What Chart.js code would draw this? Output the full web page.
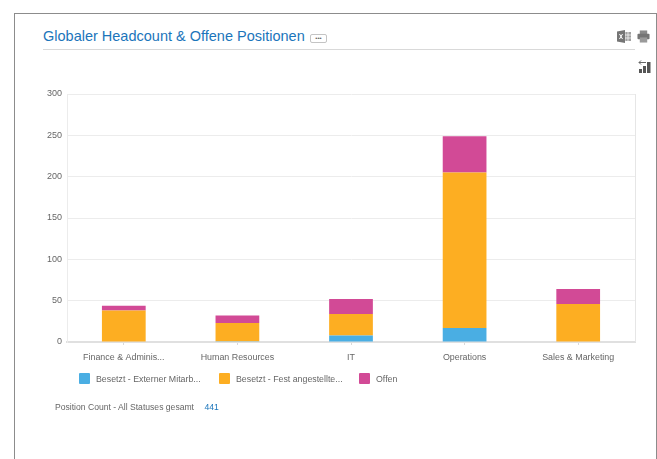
<!DOCTYPE html>
<html>
<head>
<meta charset="utf-8">
<script src="https://cdn.jsdelivr.net/npm/chart.js@4"></script>
<style>
html, body { margin: 0; padding: 0; background: #fff; overflow: hidden; }
body { width: 657px; height: 459px; position: relative; font-family: "Liberation Sans", Arial, sans-serif; color: #666; }
#rahmen { position: absolute; left: 14px; top: 13px; width: 643px; height: 446px; border: 1px solid #8c8c8c; border-bottom: none; box-sizing: border-box; }
#titel { position: absolute; left: 43px; top: 27px; font-size: 14.5px; line-height: 18px; color: #1b75bb; white-space: nowrap; }
#mehr { position: absolute; left: 310px; top: 34px; width: 17px; height: 9px; border: 1px solid #c4c4c4; border-radius: 2px; box-sizing: border-box; font-size: 6px; line-height: 7px; text-align: center; color: #666; letter-spacing: 0; }
#linie { position: absolute; left: 43px; top: 49px; width: 592px; height: 1px; background: #d9d9d9; }
canvas { position: absolute; left: 0; top: 0; }
.icon { position: absolute; }
#legende { position: absolute; left: 79px; top: 373px; height: 12px; font-size: 8.8px; line-height: 12px; white-space: nowrap; }
.eintrag { position: absolute; top: 0; }
.eintrag i { position: absolute; left: 0; top: 0; width: 11px; height: 11px; border-radius: 1px; }
.eintrag span { position: absolute; left: 17px; top: 0; }
#summe { position: absolute; left: 55px; top: 401px; font-size: 8.6px; line-height: 12px; white-space: nowrap; }
#summe b { font-weight: normal; color: #1b75bb; margin-left: 8px; }
</style>
</head>
<body>
<div id="rahmen"></div>
<div id="titel">Globaler Headcount &amp; Offene Positionen</div>
<div id="mehr">•••</div>
<div id="linie"></div>

<svg class="icon" style="left:617px;top:30px" width="14" height="13" viewBox="0 0 14 13">
  <rect x="6" y="2" width="8" height="9" fill="#a0a0a0"/>
  <path d="M8 2v9M11 2v9M6 5h8M6 8h8" stroke="#fff" stroke-width="0.7"/>
  <path d="M0 1.5 8 0v13L0 11.5z" fill="#757575"/>
  <path d="M2.5 4 5.5 9M5.5 4 2.5 9" stroke="#fff" stroke-width="1"/>
</svg>
<svg class="icon" style="left:637px;top:30px" width="13" height="13" viewBox="0 0 14 14">
  <rect x="3" y="0.5" width="8" height="4" fill="#8a8a8a"/>
  <rect x="0.5" y="4" width="13" height="6" rx="1" fill="#757575"/>
  <rect x="3" y="8" width="8" height="5.5" fill="#9a9a9a"/>
</svg>
<svg class="icon" style="left:638px;top:60px" width="13" height="13" viewBox="0 0 13 13">
  <path d="M1 2.5h7M3 0.5 1 2.5 3 4.5" fill="none" stroke="#666" stroke-width="1"/>
  <rect x="1" y="9" width="3" height="4" fill="#555"/>
  <rect x="5" y="6" width="3" height="7" fill="#555"/>
  <rect x="9" y="2" width="3.5" height="11" fill="#555"/>
</svg>

<canvas id="chartHeadcount" width="657" height="459"></canvas>

<div id="legende"></div>
<div id="summe">Position Count - All Statuses gesamt <b id="gesamt"></b></div>

<script>
const bereiche = ['Finance & Adminis...', 'Human Resources', 'IT', 'Operations', 'Sales & Marketing'];
const extern = [0, 1, 8, 17, 0];
const festAngestellt = [38, 22, 26, 188, 46];
const offen = [6, 9, 18, 44, 18];
const achsenTicks = [0, 50, 100, 150, 200, 250, 300];
const serienNamen = ['Besetzt - Externer Mitarb...', 'Besetzt - Fest angestellte...', 'Offen'];
const serienFarben = ['#4aaee3', '#fdae22', '#d24a96'];
const legendePosition = [0, 140, 280];
const gesamtWert = 441;

document.getElementById('gesamt').textContent = gesamtWert;

// Legende als HTML, damit sie frei unter dem Diagramm sitzt
const legende = document.getElementById('legende');
serienNamen.forEach((name, i) => {
    const el = document.createElement('div');
    el.className = 'eintrag';
    el.style.left = legendePosition[i] + 'px';
    el.innerHTML = `<i style="background:${serienFarben[i]}"></i><span>${name}</span>`;
    legende.appendChild(el);
});

function serie(i, werte) {
    return {
        label: serienNamen[i],
        data: werte,
        backgroundColor: serienFarben[i],
        borderWidth: 0,
        barPercentage: 0.385,
        categoryPercentage: 1
    };
}

new Chart(document.getElementById('chartHeadcount').getContext('2d'), {
    type: 'bar',
    data: {
        labels: bereiche,
        datasets: [serie(0, extern), serie(1, festAngestellt), serie(2, offen)]
    },
    options: {
        responsive: false,
        animation: false,
        layout: { padding: { left: 30, top: 94, right: 22, bottom: 96 } },
        plugins: { legend: { display: false }, tooltip: { enabled: false } },
        scales: {
            x: {
                stacked: true,
                offset: true,
                grid: { offset: false, drawOnChartArea: false, drawTicks: true, tickLength: 3, color: '#d9d9d9' },
                border: { color: '#e0e0e0', width: 2 },
                ticks: { color: '#666', font: { family: 'Liberation Sans', size: 8.9 }, padding: 7, maxRotation: 0, autoSkip: false },
                afterFit: (s) => { s.height = 21; }
            },
            y: {
                stacked: true,
                min: 0,
                max: 300,
                afterBuildTicks: (s) => { s.ticks = achsenTicks.map(v => ({ value: v })); },
                grid: { color: '#ececec', lineWidth: 1, drawTicks: false },
                border: { color: '#ececec' },
                ticks: { color: '#666', font: { family: 'Liberation Sans', size: 9 }, padding: 5 },
                afterFit: (s) => { s.width = 37; }
            }
        }
    },
    plugins: [{
        // rechte Begrenzung der Zeichenfläche
        id: 'rechterRand',
        afterDraw(chart) {
            const { ctx, chartArea: a } = chart;
            ctx.save();
            ctx.strokeStyle = '#e6e6e6';
            ctx.beginPath();
            ctx.moveTo(a.right + 0.5, a.top);
            ctx.lineTo(a.right + 0.5, a.bottom);
            ctx.stroke();
            ctx.restore();
        }
    }]
});
</script>
</body>
</html>
